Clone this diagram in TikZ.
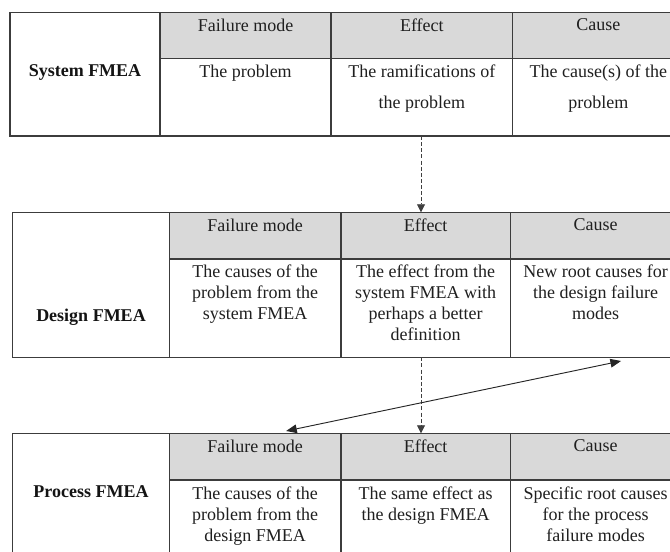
\documentclass[tikz,border=0pt]{standalone}
\usepackage{fontspec}
\setmainfont{Liberation Serif}
\usetikzlibrary{arrows.meta,calc,fit}
\definecolor{headgray}{RGB}{217,217,217}
\definecolor{rulegray}{RGB}{60,60,60}
\begin{document}
\begin{tikzpicture}[x=0.75pt,y=-0.75pt,
  cell/.style={draw=rulegray, line width=0.8pt, rectangle, inner sep=0pt, outer sep=0pt},
  head/.style={cell, fill=headgray},
  txt/.style={anchor=north, inner sep=0pt, align=center, text=black!88,
    font=\fontsize{13.5}{15.75}\selectfont},
  loose/.style={txt, font=\fontsize{13.5}{23.25}\selectfont},
  lbl/.style={inner sep=0pt, text=black!92, font=\fontsize{13.5}{15.75}\selectfont\bfseries},
  flow/.style={draw=black!75, dash pattern=on 3pt off 1.6pt, line width=0.6pt,
    -{Triangle[length=6pt,width=6pt]}},
  link/.style={draw=black!85, line width=0.7pt,
    {Triangle[length=8pt,width=6.5pt]}-{Triangle[length=8pt,width=6.5pt]}}]
\useasboundingbox (0,0) rectangle (670,552);
\clip (0,0) rectangle (670,552);

% ---------- System FMEA ----------
\node[cell, fit={(10,12.3) (160,136)}] (sL) {};
\node[head, fit={(160,12.3) (331,58.3)}] (sFh) {};
\node[head, fit={(331,12.3) (512.7,58.3)}] (sEh) {};
\node[head, fit={(512.7,12.3) (684,58.3)}] (sCh) {};
\node[cell, fit={(160,58.3) (331,136)}] (sFb) {};
\node[cell, fit={(331,58.3) (512.7,136)}] (sEb) {};
\node[cell, fit={(512.7,58.3) (684,136)}] (sCb) {};
\node[lbl] at (85,72) {System FMEA};
\node[txt] at ($(sFh.north)+(0,6.5)$) {Failure mode};
\node[txt] at ($(sEh.north)+(0,6.5)$) {Effect};
\node[txt] at ($(sCh.north)+(0,6.5)$) {Cause};
\node[loose] at ($(sFb.north)+(0,6.5)$) {The problem};
\node[loose] at ($(sEb.north)+(0,6.5)$) {The ramifications of\\the problem};
\node[loose] at ($(sCb.north)+(0,6.5)$) {The cause(s) of the\\problem};

% ---------- Design FMEA ----------
\node[cell, fit={(12.7,212.3) (169.3,357.3)}] (dL) {};
\node[head, fit={(169.3,212.3) (341,259)}] (dFh) {};
\node[head, fit={(341,212.3) (510.3,259)}] (dEh) {};
\node[head, fit={(510.3,212.3) (681,259)}] (dCh) {};
\node[cell, fit={(169.3,259) (341,357.3)}] (dFb) {};
\node[cell, fit={(341,259) (510.3,357.3)}] (dEb) {};
\node[cell, fit={(510.3,259) (681,357.3)}] (dCb) {};
\node[lbl] at (91,317) {Design FMEA};
\node[txt] at ($(dFh.north)+(0,6.5)$) {Failure mode};
\node[txt] at ($(dEh.north)+(0,6.5)$) {Effect};
\node[txt] at ($(dCh.north)+(0,6.5)$) {Cause};
\node[txt] at ($(dFb.north)+(0,6)$) {The causes of the\\problem from the\\system FMEA};
\node[txt] at ($(dEb.north)+(0,6)$) {The effect from the\\system FMEA with\\perhaps a better\\definition};
\node[txt] at ($(dCb.north)+(0,6)$) {New root causes for\\the design failure\\modes};

% ---------- Process FMEA ----------
\node[cell, fit={(12.7,433.3) (169.3,562)}] (pL) {};
\node[head, fit={(169.3,433.3) (341,480)}] (pFh) {};
\node[head, fit={(341,433.3) (510.3,480)}] (pEh) {};
\node[head, fit={(510.3,433.3) (681,480)}] (pCh) {};
\node[cell, fit={(169.3,480) (341,562)}] (pFb) {};
\node[cell, fit={(341,480) (510.3,562)}] (pEb) {};
\node[cell, fit={(510.3,480) (681,562)}] (pCb) {};
\node[lbl] at (91,492) {Process FMEA};
\node[txt] at ($(pFh.north)+(0,6.5)$) {Failure mode};
\node[txt] at ($(pEh.north)+(0,6.5)$) {Effect};
\node[txt] at ($(pCh.north)+(0,6.5)$) {Cause};
\node[txt] at ($(pFb.north)+(0,6.5)$) {The causes of the\\problem from the\\design FMEA};
\node[txt] at ($(pEb.north)+(0,6.5)$) {The same effect as\\the design FMEA};
\node[txt] at ($(pCb.north)+(0,6.5)$) {Specific root causes\\for the process\\failure modes};

% ---------- connectors ----------
\coordinate (axis) at (421,0);
\draw[flow] (sEb.south -| axis) -- (dEh.north -| axis);
\draw[flow] (dEb.south -| axis) -- (pEh.north -| axis);
\draw[link] ($(pFh.north)+(31,-2.3)$) -- ($(dCb.south)+(25.4,3.7)$);
\end{tikzpicture}
\end{document}
